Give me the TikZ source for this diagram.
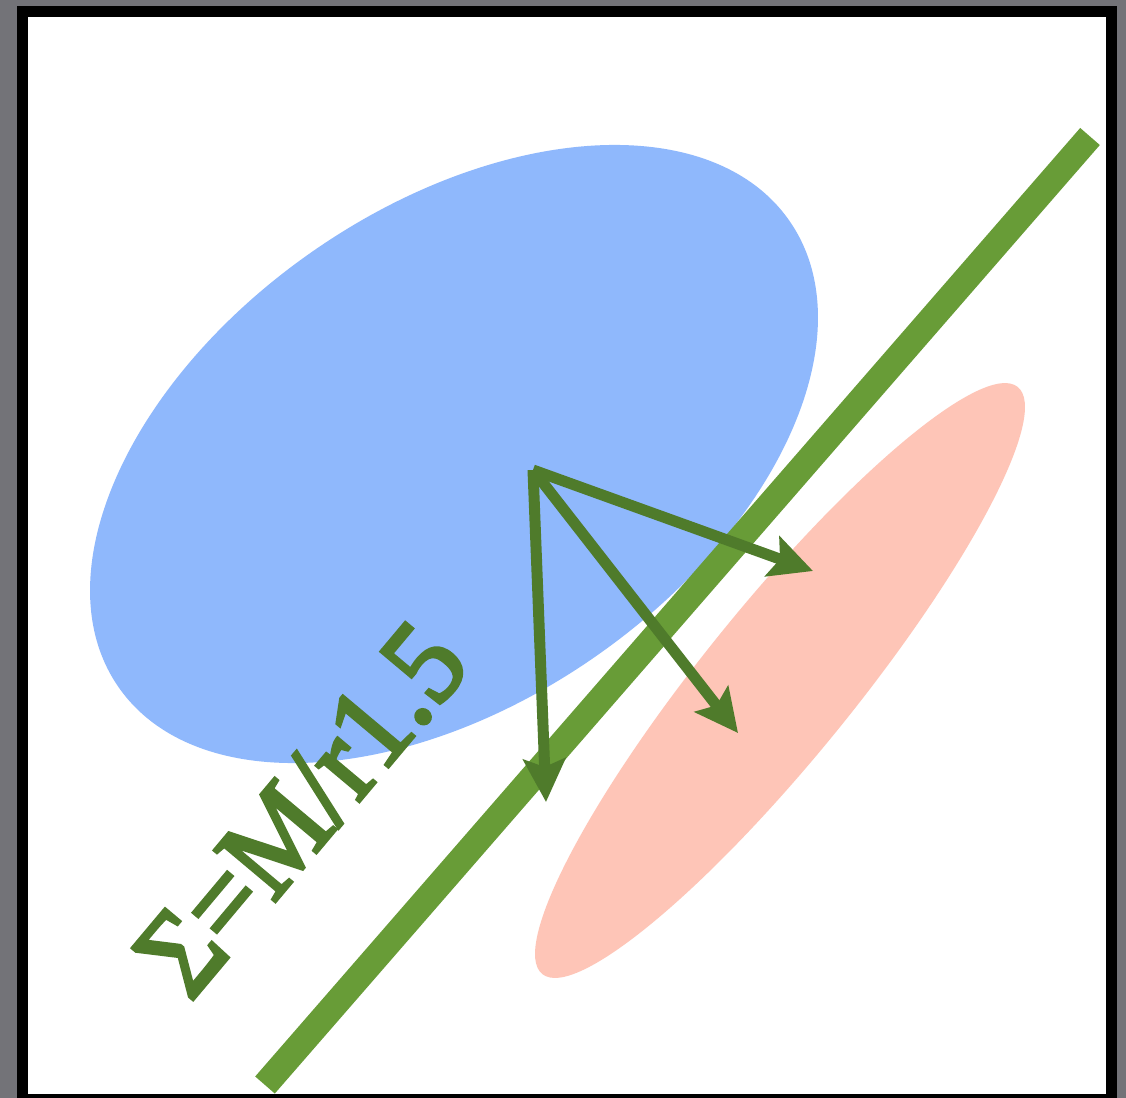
\documentclass[tikz,border=0pt]{standalone}
\usepackage{fontspec}
\setmainfont{Liberation Serif}
\newfontfamily\lblfont[FakeBold=3, FakeStretch=0.93]{Liberation Serif}
\usetikzlibrary{arrows.meta}
\definecolor{bggray}{RGB}{115,115,120}
\definecolor{blueell}{RGB}{143,184,252}
\definecolor{pinkell}{RGB}{254,197,183}
\definecolor{linegreen}{RGB}{104,156,55}
\definecolor{arrowgreen}{RGB}{79,123,43}
\tikzset{
  vec/.style={draw=arrowgreen, line width=0.22cm,
    -{Stealth[length=0.86cm, width=0.84cm, inset=0.16cm]}},
  thickline/.style={draw=linegreen, line width=0.52cm},
}
\begin{document}
\begin{tikzpicture}[x=0.02cm,y=0.02cm]
\useasboundingbox (0,0) rectangle (1126,-1098);
\fill[bggray] (0,0) rectangle (1126,-1098);
\fill[black] (17,-6) rectangle (1117,-1098);
\fill[white] (28,-17) rectangle (1106,-1094);
% ellipses
\fill[blueell, rotate around={34.8:(454,-454)}] (454,-454) ellipse [x radius=8.172cm, y radius=4.942cm];
\fill[pinkell, rotate around={51:(780,-680.5)}] (780,-680.5) ellipse [x radius=7.556cm, y radius=1.518cm];
% green line
\coordinate (L1) at (265,-1085);
\coordinate (L2) at (1090,-136.5);
\draw[thickline] (L1) -- (L2);
% label
\node[rotate=50, anchor=base west, font=\lblfont\fontsize{69}{69}\selectfont, text=arrowgreen, inner sep=0] (lbl) at (190,-1003) {Σ=M/r1.5};
% vectors
\coordinate (O) at (533,-470);
\coordinate (T1) at (813,-571);
\coordinate (T2) at (738,-733);
\coordinate (T3) at (546,-802);
\draw[vec] (O) -- (T1);
\draw[vec] (O) -- (T2);
\draw[vec] (O) -- (T3);
\end{tikzpicture}
\end{document}
